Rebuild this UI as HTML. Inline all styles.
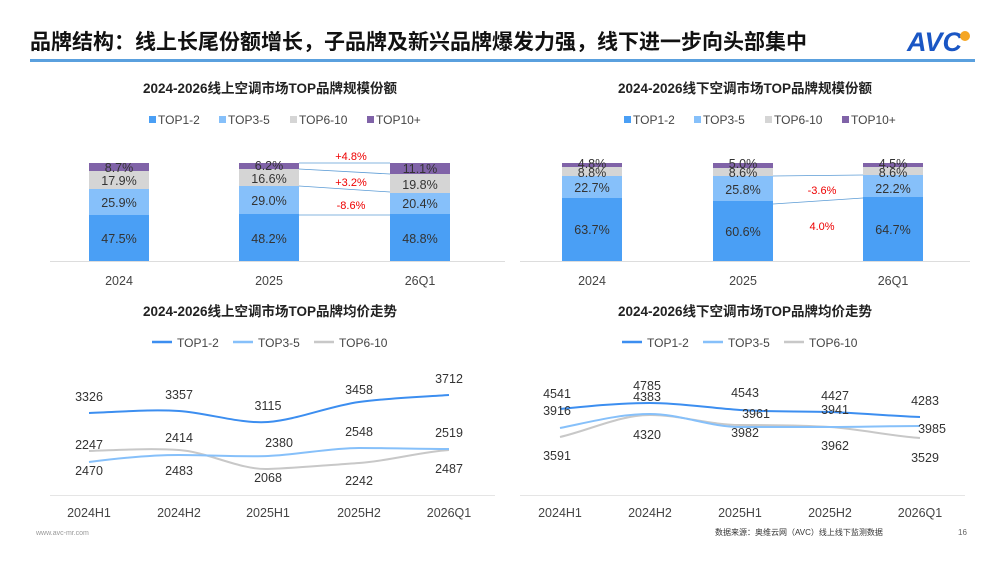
<!DOCTYPE html>
<html><head><meta charset="utf-8"><style>
body{margin:0;width:1000px;height:562px;background:#fff;overflow:hidden;font-family:"Liberation Sans","Noto Sans CJK SC",sans-serif}
svg{display:block}
</style></head><body>
<svg width="1000" height="562" viewBox="0 0 1000 562" font-family="Liberation Sans, Noto Sans CJK SC, sans-serif">
<text x="30" y="49" font-size="21" font-weight="bold" fill="#111">品牌结构：线上长尾份额增长，子品牌及新兴品牌爆发力强，线下进一步向头部集中</text>
<text x="907" y="51" font-size="27" font-weight="bold" fill="#1a56c4" font-style="italic">AVC</text>
<circle cx="965" cy="36" r="5" fill="#f5a623"/>
<rect x="30" y="59" width="945" height="3" fill="#5aa0de"/>
<g font-size="13.5" font-weight="bold" fill="#222" text-anchor="middle">
<text x="270" y="93">2024-2026线上空调市场TOP品牌规模份额</text>
<text x="745" y="93">2024-2026线下空调市场TOP品牌规模份额</text>
<text x="270" y="316">2024-2026线上空调市场TOP品牌均价走势</text>
<text x="745" y="316">2024-2026线下空调市场TOP品牌均价走势</text>
</g>
<!-- bar legends -->
<g font-size="12" fill="#444">
<rect x="149" y="116" width="7" height="7" fill="#4a9ff5"/><text x="158" y="124">TOP1-2</text>
<rect x="219" y="116" width="7" height="7" fill="#86c0fa"/><text x="228" y="124">TOP3-5</text>
<rect x="290" y="116" width="7" height="7" fill="#d5d5d5"/><text x="299" y="124">TOP6-10</text>
<rect x="367" y="116" width="7" height="7" fill="#8063a8"/><text x="376" y="124">TOP10+</text>
<rect x="624" y="116" width="7" height="7" fill="#4a9ff5"/><text x="633" y="124">TOP1-2</text>
<rect x="694" y="116" width="7" height="7" fill="#86c0fa"/><text x="703" y="124">TOP3-5</text>
<rect x="765" y="116" width="7" height="7" fill="#d5d5d5"/><text x="774" y="124">TOP6-10</text>
<rect x="842" y="116" width="7" height="7" fill="#8063a8"/><text x="851" y="124">TOP10+</text>
</g>
<line x1="50" y1="261.5" x2="505" y2="261.5" stroke="#ddd"/>
<line x1="520" y1="261.5" x2="970" y2="261.5" stroke="#ddd"/>
<!-- left bars -->
<g>
<rect x="89" y="215" width="60" height="46" fill="#4a9ff5"/><rect x="89" y="189" width="60" height="26" fill="#86c0fa"/><rect x="89" y="171" width="60" height="18" fill="#d5d5d5"/><rect x="89" y="163" width="60" height="8" fill="#8063a8"/>
<rect x="239" y="214" width="60" height="47" fill="#4a9ff5"/><rect x="239" y="186" width="60" height="28" fill="#86c0fa"/><rect x="239" y="169" width="60" height="17" fill="#d5d5d5"/><rect x="239" y="163" width="60" height="6" fill="#8063a8"/>
<rect x="390" y="214" width="60" height="47" fill="#4a9ff5"/><rect x="390" y="193" width="60" height="21" fill="#86c0fa"/><rect x="390" y="174" width="60" height="19" fill="#d5d5d5"/><rect x="390" y="163" width="60" height="11" fill="#8063a8"/>
<!-- right bars -->
<rect x="562" y="198" width="60" height="63" fill="#4a9ff5"/><rect x="562" y="176" width="60" height="22" fill="#86c0fa"/><rect x="562" y="167" width="60" height="9" fill="#d5d5d5"/><rect x="562" y="163" width="60" height="4" fill="#8063a8"/>
<rect x="713" y="201" width="60" height="60" fill="#4a9ff5"/><rect x="713" y="176" width="60" height="25" fill="#86c0fa"/><rect x="713" y="168" width="60" height="8" fill="#d5d5d5"/><rect x="713" y="163" width="60" height="5" fill="#8063a8"/>
<rect x="863" y="197" width="60" height="64" fill="#4a9ff5"/><rect x="863" y="175" width="60" height="22" fill="#86c0fa"/><rect x="863" y="167" width="60" height="8" fill="#d5d5d5"/><rect x="863" y="163" width="60" height="4" fill="#8063a8"/>
</g>
<g stroke="#5b9bd5" stroke-width="0.8">
<line x1="299" y1="163" x2="390" y2="163"/><line x1="299" y1="169" x2="390" y2="174"/><line x1="299" y1="186" x2="390" y2="192"/><line x1="299" y1="215" x2="390" y2="215"/>
<line x1="773" y1="176" x2="863" y2="175"/><line x1="773" y1="204" x2="863" y2="198"/>
</g>
<g font-size="12.5" fill="#333" text-anchor="middle">
<text x="119" y="172">8.7%</text><text x="119" y="185">17.9%</text><text x="119" y="207">25.9%</text><text x="119" y="243">47.5%</text>
<text x="269" y="170">6.2%</text><text x="269" y="183">16.6%</text><text x="269" y="205">29.0%</text><text x="269" y="243">48.2%</text>
<text x="420" y="173">11.1%</text><text x="420" y="189">19.8%</text><text x="420" y="208">20.4%</text><text x="420" y="243">48.8%</text>
<text x="592" y="168">4.8%</text><text x="592" y="177">8.8%</text><text x="592" y="192">22.7%</text><text x="592" y="234">63.7%</text>
<text x="743" y="168">5.0%</text><text x="743" y="177">8.6%</text><text x="743" y="194">25.8%</text><text x="743" y="236">60.6%</text>
<text x="893" y="168">4.5%</text><text x="893" y="177">8.6%</text><text x="893" y="193">22.2%</text><text x="893" y="234">64.7%</text>
</g>
<g font-size="11" fill="#e00" text-anchor="middle">
<text x="351" y="160">+4.8%</text><text x="351" y="186">+3.2%</text><text x="351" y="209">-8.6%</text>
<text x="822" y="194">-3.6%</text><text x="822" y="230">4.0%</text>
</g>
<g font-size="12.5" fill="#444" text-anchor="middle">
<text x="119" y="285">2024</text><text x="269" y="285">2025</text><text x="420" y="285">26Q1</text>
<text x="592" y="285">2024</text><text x="743" y="285">2025</text><text x="893" y="285">26Q1</text>
</g>
<!-- line legends -->
<g font-size="12" fill="#444">
<line x1="152" y1="342" x2="172" y2="342" stroke="#3c8ef0" stroke-width="2.5"/><text x="177" y="347">TOP1-2</text>
<line x1="233" y1="342" x2="253" y2="342" stroke="#86c0fa" stroke-width="2.5"/><text x="258" y="347">TOP3-5</text>
<line x1="314" y1="342" x2="334" y2="342" stroke="#c8c8c8" stroke-width="2.5"/><text x="339" y="347">TOP6-10</text>
<line x1="622" y1="342" x2="642" y2="342" stroke="#3c8ef0" stroke-width="2.5"/><text x="647" y="347">TOP1-2</text>
<line x1="703" y1="342" x2="723" y2="342" stroke="#86c0fa" stroke-width="2.5"/><text x="728" y="347">TOP3-5</text>
<line x1="784" y1="342" x2="804" y2="342" stroke="#c8c8c8" stroke-width="2.5"/><text x="809" y="347">TOP6-10</text>
</g>
<line x1="50" y1="495.5" x2="495" y2="495.5" stroke="#e5e5e5"/>
<line x1="520" y1="495.5" x2="965" y2="495.5" stroke="#e5e5e5"/>
<g fill="none" stroke-width="2">
<path d="M89,413 C120,412 150,409 179,411 S240,424 268,422 S330,406 359,402 S420,397 449,395" stroke="#3c8ef0"/>
<path d="M89,451 C120,450 150,448 179,450 S240,470 268,469 S330,465 359,463 S420,452 449,450" stroke="#c8c8c8"/>
<path d="M89,462 C120,458 150,455 179,455 S240,457 268,456 S330,448 359,448 S420,449 449,449" stroke="#86c0fa"/>
<path d="M560,437 C590,430 620,415 650,415 S710,425 740,425 S800,425 830,427 S890,436 920,438" stroke="#c8c8c8"/>
<path d="M560,428 C590,422 620,414 650,414 S710,427 740,427 S800,427 830,427 S890,426 920,426" stroke="#86c0fa"/>
<path d="M560,409 C590,406 620,403 650,403 S710,408 740,410 S800,411 830,412 S890,416 920,417" stroke="#3c8ef0"/>
</g>
<g font-size="12.5" fill="#333" text-anchor="middle">
<text x="89" y="401">3326</text><text x="179" y="399">3357</text><text x="268" y="410">3115</text><text x="359" y="394">3458</text><text x="449" y="383">3712</text>
<text x="89" y="449">2247</text><text x="179" y="442">2414</text><text x="279" y="447">2380</text><text x="359" y="436">2548</text><text x="449" y="437">2519</text>
<text x="89" y="475">2470</text><text x="179" y="475">2483</text><text x="268" y="482">2068</text><text x="359" y="485">2242</text><text x="449" y="473">2487</text>
<text x="557" y="398">4541</text><text x="557" y="415">3916</text><text x="557" y="460">3591</text>
<text x="647" y="390">4785</text><text x="647" y="401">4383</text><text x="647" y="439">4320</text>
<text x="745" y="397">4543</text><text x="756" y="418">3961</text><text x="745" y="437">3982</text>
<text x="835" y="400">4427</text><text x="835" y="414">3941</text><text x="835" y="450">3962</text>
<text x="925" y="405">4283</text><text x="932" y="433">3985</text><text x="925" y="462">3529</text>
</g>
<g font-size="12.5" fill="#444" text-anchor="middle">
<text x="89" y="517">2024H1</text><text x="179" y="517">2024H2</text><text x="268" y="517">2025H1</text><text x="359" y="517">2025H2</text><text x="449" y="517">2026Q1</text>
<text x="560" y="517">2024H1</text><text x="650" y="517">2024H2</text><text x="740" y="517">2025H1</text><text x="830" y="517">2025H2</text><text x="920" y="517">2026Q1</text>
</g>
<text x="36" y="535" font-size="7" fill="#999">www.avc-mr.com</text>
<text x="715" y="535" font-size="8" fill="#333">数据来源：奥维云网（AVC）线上线下监测数据</text>
<text x="958" y="535" font-size="8" fill="#666">16</text>
</svg>
</body></html>
